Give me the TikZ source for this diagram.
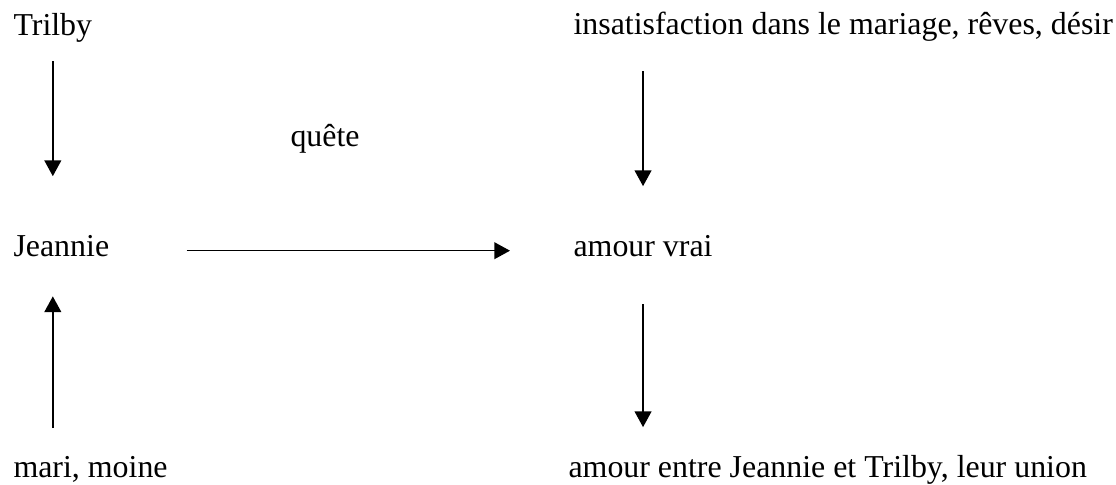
\documentclass[tikz,border=0pt]{standalone}
\usepackage{fontspec}
\setmainfont{Liberation Serif}
\usetikzlibrary{arrows.meta}

\begin{document}
\begin{tikzpicture}[x=0.381pt,y=-0.381pt,
    lbl/.style={anchor=base west,inner sep=0pt,text height=0.7em,text depth=0.22em,font=\fontsize{12.15}{14}\selectfont},
    arr/.style={line width=0.6pt,-{Triangle[length=6pt,width=6.4pt]}}]
    \useasboundingbox (0,0) rectangle (1116,485);
    % name / base point / text
    \foreach \n/\p/\t in {trilby/{(13,36)}/Trilby, insat/{(573,35)}/{insatisfaction dans le mariage, rêves, désir},
                          quete/{(290,147)}/quête, jeannie/{(13,257)}/Jeannie, amour/{(573,257)}/amour vrai,
                          mari/{(13,477)}/{mari, moine}, union/{(568,477)}/{amour entre Jeannie et Trilby, leur union}}
        {\node[lbl] (\n) at \p {\t};}
    \draw[arr,shorten <=7.2pt,shorten >=23.6pt] (trilby.south) -- (trilby.south |- jeannie.north);
    \draw[arr,shorten <=11.4pt,shorten >=19.8pt] (amour.north |- insat.south) -- (amour.north);
    \draw[arr,shorten <=15.6pt,shorten >=11.8pt] (amour.south) -- (amour.south |- union.north);
    \draw[arr,shorten <=11.4pt,shorten >=12.6pt] (trilby.south |- mari.north) -- (trilby.south |- jeannie.south);
    \draw[arr,shorten <=29.3pt,shorten >=24pt] (jeannie.east) -- (amour.west);
\end{tikzpicture}
\end{document}
